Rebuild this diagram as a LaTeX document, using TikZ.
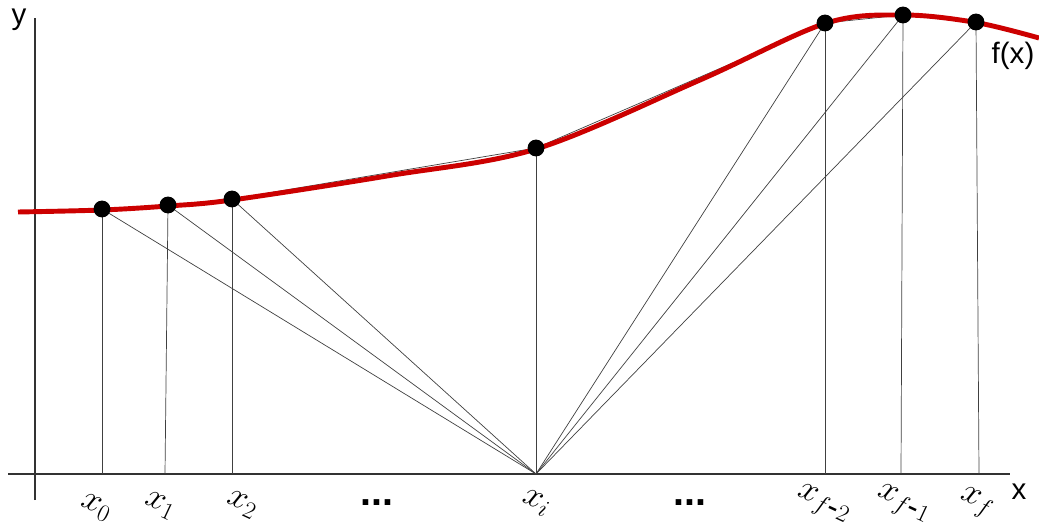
\documentclass[tikz,border=0pt]{standalone}
\usepackage{fontspec}
\setmainfont{Liberation Sans}
\begin{document}
\begin{tikzpicture}[x=0.025cm,y=-0.025cm,
  thinline/.style={draw=black!75,line width=0.5pt},
  axisline/.style={draw=black!80,line width=0.8pt},
  dot/.style={circle,fill=black,inner sep=0pt,minimum size=12pt},
  xlab/.style={font=\fontsize{23}{26}\selectfont,rotate=-25,inner sep=0pt},
  axlab/.style={font=\fontsize{21}{24}\selectfont,inner sep=0pt},
  dots/.style={font=\fontsize{28}{30}\selectfont\bfseries,inner sep=0pt}]
\useasboundingbox (0,0) rectangle (1039,531);
% axes
\coordinate (ya) at (35,500);
\coordinate (yb) at (35,18);
\coordinate (xa) at (8,474);
\coordinate (xb) at (1010,474);
\draw[axisline] (ya) -- (yb);
\draw[axisline] (xa) -- (xb);
\node[axlab] (ylab) at (19,20) {y};
\node[axlab] (xlabel) at (1019,492) {x};
% points
\coordinate (p0) at (102,209);
\coordinate (p1) at (168,205);
\coordinate (p2) at (232,199);
\coordinate (pi) at (536,148);
\coordinate (pf2) at (825,23);
\coordinate (pf1) at (903,15);
\coordinate (pf) at (976,22);
% feet
\coordinate (b0) at (102,474);
\coordinate (b1) at (165,474);
\coordinate (b2) at (232,474);
\coordinate (bi) at (536,474);
\coordinate (bf2) at (825,474);
\coordinate (bf1) at (901,474);
\coordinate (bf) at (979,474);
% verticals
\foreach \a/\b in {p0/b0,p1/b1,p2/b2,pi/bi,pf2/bf2,pf1/bf1,pf/bf}
  \draw[thinline] (\a) -- (\b);
% fan
\foreach \a in {p0,p1,p2,pf2,pf1,pf}
  \draw[thinline] (bi) -- (\a);
% chord polyline
\draw[thinline] (p0) -- (p1) -- (p2) -- (pi) -- (pf2) -- (pf1) -- (pf);
% red curve
\draw[red!80!black,line width=3.5pt] plot[smooth,tension=0.55] coordinates
  {(18,212) (102,210) (168,206) (232,200) (390,175.5) (536,149) (700,80) (825,23.5) (903,15) (976,22.5) (1039,38)};
% dots
\foreach \a in {p0,p1,p2,pi,pf2,pf1,pf}
  \node[dot] at (\a) {};
% labels
\node[axlab] (flab) at (1013,56) {f(x)};
\node[xlab] (l0) at (96,508) {$x_0$};
\node[xlab] (l1) at (160,506) {$x_1$};
\node[xlab] (l2) at (242,505) {$x_2$};
\node[dots] (d1) at (377,503) {...};
\node[xlab] (li) at (536,503) {$x_i$};
\node[dots] (d2) at (690,503) {...};
\node[xlab] (lf2) at (823,505) {$x_{f\mbox{-}2}$};
\node[xlab] (lf1) at (903,505) {$x_{f\mbox{-}1}$};
\node[xlab] (lf) at (976,503) {$x_f$};
\end{tikzpicture}
\end{document}
